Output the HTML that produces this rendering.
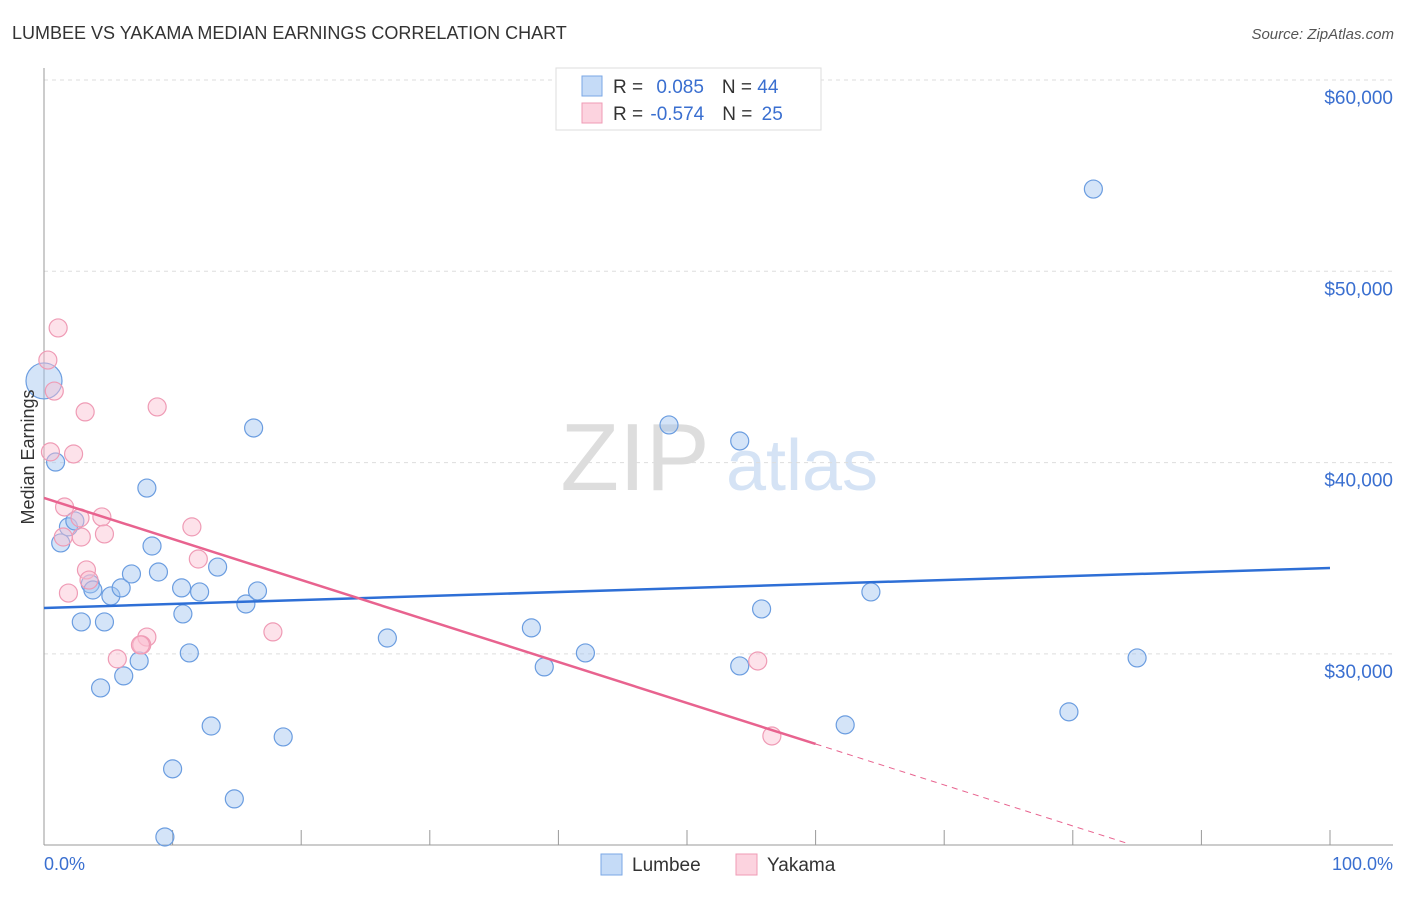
<!DOCTYPE html>
<html><head><meta charset="utf-8"><style>
body{margin:0;background:#fff;font-family:"Liberation Sans",sans-serif}
svg text{font-family:"Liberation Sans",sans-serif}
</style></head><body>
<svg width="1406" height="892" xmlns="http://www.w3.org/2000/svg">
<text x="12" y="39" font-size="18" fill="#333">LUMBEE VS YAKAMA MEDIAN EARNINGS CORRELATION CHART</text>
<text x="1394" y="39" font-size="15" fill="#555" font-style="italic" text-anchor="end">Source: ZipAtlas.com</text>
<g>
<text x="635" y="490" font-size="96" fill="#ddd" font-family="Liberation Serif" text-anchor="middle">ZIP</text>
<text x="802" y="490" font-size="72" fill="#d5e3f5" text-anchor="middle">atlas</text>
</g>
<g id="grid"></g>
<g id="axes"></g>
<g id="marks"></g>
<text transform="translate(34,457) rotate(-90)" font-size="18" fill="#333" text-anchor="middle">Median Earnings</text>
<text x="44" y="870" font-size="18" fill="#3a6fd0">0.0%</text>
<text x="1393" y="870" font-size="18" fill="#3a6fd0" text-anchor="end">100.0%</text>
<g>
<rect x="556" y="68" width="265" height="62" fill="#fff" stroke="#ddd"/>
<rect x="582" y="76" width="20" height="20" fill="#c5dbf7" stroke="#7aa7e6"/>
<rect x="582" y="103" width="20" height="20" fill="#fcd3df" stroke="#ef9bb5"/>
<text x="613" y="93" font-size="19" fill="#333">R = <tspan fill="#3a6fd0" dx="8">0.085</tspan><tspan dx="18">N = </tspan><tspan fill="#3a6fd0">44</tspan></text>
<text x="613" y="120" font-size="19" fill="#333">R = <tspan fill="#3a6fd0" dx="2">-0.574</tspan><tspan dx="18">N = </tspan><tspan fill="#3a6fd0" dx="4">25</tspan></text>
</g>
<g>
<rect x="601" y="854" width="21" height="21" fill="#c5dbf7" stroke="#7aa7e6"/>
<text x="632" y="871" font-size="19" fill="#333">Lumbee</text>
<rect x="736" y="854" width="21" height="21" fill="#fcd3df" stroke="#ef9bb5"/>
<text x="767" y="871" font-size="19" fill="#333">Yakama</text>
</g>
</svg>
<script>
const yTicks=[30000,40000,50000,60000];
const yTickLabels=["$30,000","$40,000","$50,000","$60,000"];
const xTicks=[0,10,20,30,40,50,60,70,80,90,100];
const lumbeeX=[0,0.9,1.3,1.9,2.4,2.9,3.6,3.8,4.4,4.7,5.2,6.0,6.2,6.8,7.4,8.0,8.4,8.9,9.4,10.0,10.7,10.8,11.3,12.1,13.0,13.5,14.8,15.7,16.3,16.6,18.6,26.7,37.9,38.9,42.1,48.6,54.1,54.1,55.8,62.3,64.3,79.7,81.6,85.0];
const lumbeeY=[44270,40030,35800,36640,36950,31670,33660,33340,28220,31670,33030,33450,28850,34180,29630,38670,35640,34280,20430,23990,33450,32090,30050,33240,26230,34540,22420,32610,41810,33290,25660,30830,31360,29320,30050,41970,41130,29370,32350,26290,33240,26970,54300,29790];
const yakamaX=[1.1,0.3,0.8,3.2,8.8,0.5,2.3,1.6,4.5,2.8,1.5,2.9,4.7,11.5,3.3,3.5,1.9,12.0,8.0,7.6,7.5,5.7,17.8,55.5,56.6];
const yakamaY=[47040,45360,43740,42650,42910,40560,40450,37680,37160,37110,36110,36110,36270,36640,34390,33860,33180,34960,30880,30470,30470,29740,31150,29630,25710];
const lumbeeTrend=[32400,34490]; // value at x=0, x=100
const yakamaTrend=[38150,-214.3]; // intercept, slope per %
const yakamaSolidEnd=60, yakamaDashEnd=84.1;
const NS="http://www.w3.org/2000/svg";
const X=v=>44+v*12.86;
const Y=v=>80+(60000-v)*0.01913;
function mk(tag,attrs,parent){const e=document.createElementNS(NS,tag);for(const k in attrs)e.setAttribute(k,attrs[k]);parent.appendChild(e);return e;}
const grid=document.getElementById('grid'),axes=document.getElementById('axes'),marks=document.getElementById('marks');
yTicks.forEach((t,i)=>{
 const l=mk('line',{x1:44,x2:1393,y1:Y(t),y2:Y(t),stroke:'#ddd','stroke-dasharray':'4,4'},grid);
 
 
 const tx=mk('text',{x:1393,y:Y(t)+24,'font-size':19,fill:'#3a6fd0','text-anchor':'end'},grid);
 tx.textContent=yTickLabels[i];
 
 
});
const ya=mk('line',{x1:44,x2:44,y1:68,y2:845,stroke:'#999'},axes);


const xa=mk('line',{x1:44,x2:1393,y1:845,y2:845,stroke:'#999'},axes);


xTicks.forEach(t=>{
 const l=mk('line',{x1:X(t),x2:X(t),y1:830,y2:845,stroke:'#999'},axes);
 
 
});
lumbeeX.forEach((x,i)=>{
 const c=mk('circle',{cx:X(x),cy:Y(lumbeeY[i]),r:i===0?18:9,fill:'rgba(160,196,240,0.45)',stroke:'#6b9de0','stroke-width':1.2},marks);
 
 
});
yakamaX.forEach((x,i)=>{
 const c=mk('circle',{cx:X(x),cy:Y(yakamaY[i]),r:9,fill:'rgba(250,190,208,0.45)',stroke:'#ef9bb5','stroke-width':1.2},marks);
 
 
});
const bl=mk('line',{x1:X(0),y1:Y(lumbeeTrend[0]),x2:X(100),y2:Y(lumbeeTrend[1]),stroke:'#2e6fd6','stroke-width':2.5},marks);


const yv=x=>yakamaTrend[0]+yakamaTrend[1]*x;
const pl=mk('line',{x1:X(0),y1:Y(yv(0)),x2:X(yakamaSolidEnd),y2:Y(yv(yakamaSolidEnd)),stroke:'#e8638f','stroke-width':2.5},marks);


const pd=mk('line',{x1:X(yakamaSolidEnd),y1:Y(yv(yakamaSolidEnd)),x2:X(yakamaDashEnd),y2:Y(yv(yakamaDashEnd)),stroke:'#e8638f','stroke-width':1,'stroke-dasharray':'6,5'},marks);


</script>
</body></html>
